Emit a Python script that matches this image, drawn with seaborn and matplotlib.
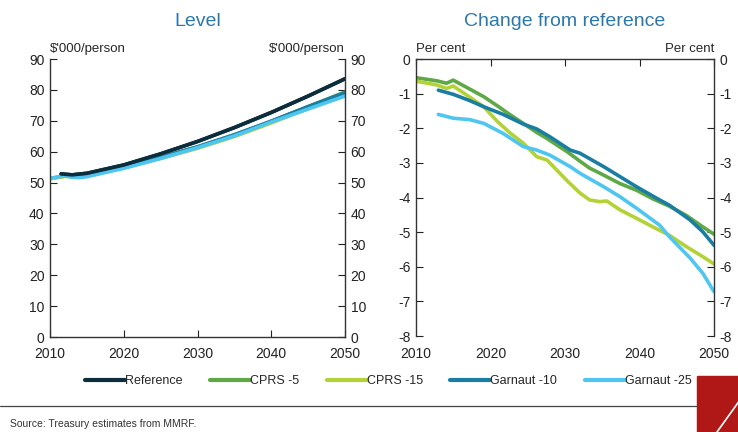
import numpy as np
import pandas as pd
import seaborn as sns
import matplotlib.pyplot as plt
from matplotlib.lines import Line2D
from matplotlib.patches import Polygon

# ---- data ----
series_names = ['Reference', 'CPRS -5', 'CPRS -15', 'Garnaut -10', 'Garnaut -25']
series_colors = ['#0c2d3c', '#5ea845', '#b3d235', '#1a7ea3', '#4ec6f0']

# Level, $'000/person
ref_years = [2011.5, 2013, 2015, 2020, 2025, 2030, 2035, 2040, 2045, 2050]
ref_level = [52.8, 52.5, 53.0, 55.7, 59.3, 63.3, 67.8, 72.7, 78.0, 83.6]

lvl_years = [2010, 2012, 2013, 2014, 2015, 2020, 2025, 2030, 2035, 2040, 2045, 2050]
cprs5_level = [51.3, 52.1, 52.0, 52.2, 52.6, 55.1, 58.3, 61.5, 65.4, 69.8, 74.6, 79.3]
cprs15_level = [51.2, 52.0, 51.9, 52.0, 52.4, 54.8, 57.8, 61.1, 64.9, 69.3, 74.0, 78.7]
lvl_years_g = [2012, 2013, 2014, 2015, 2020, 2025, 2030, 2035, 2040, 2045, 2050]
garn10_level = [52.3, 52.0, 52.1, 52.5, 55.0, 58.2, 61.6, 65.5, 69.9, 74.6, 79.1]
lvl_years_g25 = [2010, 2012, 2013, 2014, 2015, 2020, 2025, 2030, 2035, 2040, 2045, 2050]
garn25_level = [51.4, 52.2, 51.7, 51.6, 51.9, 54.6, 57.8, 61.3, 65.1, 69.6, 73.8, 78.0]

# Change from reference, per cent
chg_years = [2010, 2012.8, 2014.1, 2015, 2016.8, 2019.1, 2020.9, 2022.7, 2024.4, 2026.2,
             2027.6, 2030.3, 2032, 2033.3, 2034.7, 2035.6, 2037.4, 2039.6, 2041.8, 2044,
             2046.3, 2048.5, 2050]
cprs5_chg = [-0.54, -0.63, -0.70, -0.61, -0.82, -1.09, -1.35, -1.62, -1.86, -2.12,
             -2.30, -2.68, -2.95, -3.15, -3.30, -3.40, -3.60, -3.79, -4.04, -4.25,
             -4.52, -4.85, -5.06]
cprs15_chg = [-0.64, -0.75, -0.85, -0.78, -1.04, -1.38, -1.80, -2.15, -2.43, -2.82,
              -2.92, -3.52, -3.87, -4.07, -4.12, -4.10, -4.36, -4.60, -4.85, -5.09,
              -5.42, -5.71, -5.92]

g_years = [2013, 2015, 2017.2, 2019.1, 2021.7, 2024.4, 2026.2, 2028, 2030.7, 2032,
           2035.2, 2037.4, 2039.6, 2042.7, 2044, 2046.8, 2048.5, 2050]
garn10_chg = [-0.90, -1.02, -1.20, -1.38, -1.60, -1.88, -2.02, -2.25, -2.63, -2.72,
              -3.11, -3.40, -3.69, -4.07, -4.22, -4.65, -4.99, -5.38]
garn25_chg = [-1.60, -1.71, -1.75, -1.86, -2.15, -2.53, -2.63, -2.78, -3.11, -3.30,
              -3.69, -3.98, -4.31, -4.80, -5.13, -5.75, -6.19, -6.72]

level_data = [(ref_years, ref_level), (lvl_years, cprs5_level), (lvl_years, cprs15_level),
              (lvl_years_g, garn10_level), (lvl_years_g25, garn25_level)]
change_data = [None, (chg_years, cprs5_chg), (chg_years, cprs15_chg),
               (g_years, garn10_chg), (g_years, garn25_chg)]

sns.set_style('white')
plt.rcParams['font.family'] = ['Liberation Sans', 'DejaVu Sans']
plt.rcParams['axes.unicode_minus'] = False

fig = plt.figure(figsize=(7.38, 4.32), dpi=100)
ax1 = fig.add_axes([0.0678, 0.2199, 0.3997, 0.6435])
ax2 = fig.add_axes([0.5637, 0.2222, 0.4038, 0.6412])

title_col = '#2b78ad'
axis_col = '#333333'

# Level panel
for name, col, (xs, ys) in zip(series_names, series_colors, level_data):
    sns.lineplot(x=xs, y=ys, ax=ax1, color=col, linewidth=2.6, legend=False)
# draw reference on top
sns.lineplot(x=ref_years, y=ref_level, ax=ax1, color=series_colors[0], linewidth=2.6, legend=False)

ax1.set_xlim(2010, 2050)
ax1.set_ylim(0, 90)
ax1.set_xticks([2010, 2020, 2030, 2040, 2050])
ax1.set_yticks(range(0, 91, 10))
ax1.spines['top'].set_visible(False)
ax1.tick_params(axis='y', left=True, right=True, labelleft=True, labelright=True,
                direction='in', length=5, labelsize=10, colors='#222222', pad=4)
ax1.tick_params(axis='x', bottom=True, direction='in', length=5, labelsize=10,
                colors='#222222', pad=7)
ax1.set_title('Level', color=title_col, fontsize=14, pad=24)
ax1.text(0.0, 1.015, "$'000/person", transform=ax1.transAxes, ha='left', va='bottom', fontsize=9.5)
ax1.text(1.0, 1.015, "$'000/person", transform=ax1.transAxes, ha='right', va='bottom', fontsize=9.5)

# Change panel
for name, col, d in zip(series_names, series_colors, change_data):
    if d is None:
        continue
    sns.lineplot(x=d[0], y=d[1], ax=ax2, color=col, linewidth=2.6, legend=False)

ax2.set_xlim(2010, 2050)
ax2.set_ylim(-8, 0)
ax2.set_xticks([2010, 2020, 2030, 2040, 2050])
ax2.set_yticks(range(-8, 1))
ax2.spines['bottom'].set_visible(False)
ax2.tick_params(axis='y', left=True, right=True, labelleft=True, labelright=True,
                direction='in', length=5, labelsize=10, colors='#222222', pad=4)
ax2.tick_params(axis='x', bottom=False, top=True, labelbottom=True, direction='in',
                length=5, labelsize=10, colors='#222222', pad=8)
ax2.set_title('Change from reference', color=title_col, fontsize=14, pad=24)
ax2.text(0.0, 1.015, 'Per cent', transform=ax2.transAxes, ha='left', va='bottom', fontsize=9.5)
ax2.text(1.0, 1.015, 'Per cent', transform=ax2.transAxes, ha='right', va='bottom', fontsize=9.5)

for ax in (ax1, ax2):
    for s in ax.spines.values():
        s.set_color(axis_col)
        s.set_linewidth(1.0)
    ax.set_xlabel('')
    ax.set_ylabel('')

# legend
handles = [Line2D([0], [0], color=c, linewidth=3) for c in series_colors]
fig.legend(handles, series_names, loc='center', bbox_to_anchor=(0.526, 0.118), ncol=5,
           frameon=False, fontsize=9, handlelength=3.2, handletextpad=0.0,
           columnspacing=2.2)

# separator and source
fig.add_artist(Line2D([0, 697 / 738], [1 - 406 / 432, 1 - 406 / 432], color='#444444',
                      linewidth=0.9, transform=fig.transFigure))
fig.text(10 / 738, 1 - 424 / 432, 'Source: Treasury estimates from MMRF.', fontsize=7.5,
         va='center', ha='left', color='#333333')

# red logo corner
fig.add_artist(Polygon([[697 / 738, 1 - 376 / 432], [1.0, 1 - 376 / 432], [1.0, 0.0],
                        [697 / 738, 0.0]], closed=True, color='#b01818',
                       transform=fig.transFigure))
fig.add_artist(Line2D([717 / 738, 740 / 738], [0.0, 1 - 400 / 432], color='white',
                      linewidth=1.2, transform=fig.transFigure))

fig.savefig('out.png', dpi=100)
